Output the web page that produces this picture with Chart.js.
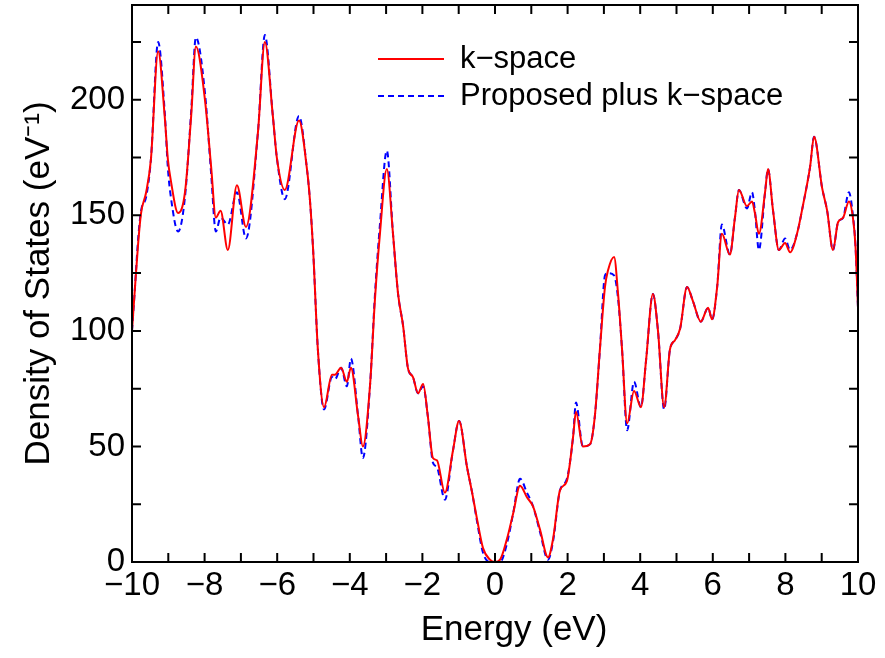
<!DOCTYPE html>
<html>
<head>
<meta charset="utf-8">
<script src="https://cdn.jsdelivr.net/npm/chart.js@4.4.1/dist/chart.umd.min.js"></script>
<style>
  html, body { margin: 0; padding: 0; background: #fff; }
</style>
</head>
<body>
<canvas id="dosChart" width="885" height="658"></canvas>
<script>
// energy grid (eV)
const energy = [-10.00, -9.93, -9.83, -9.75, -9.61, -9.48, -9.28, -9.10, -9.01, -8.93, -8.73, -8.54, -8.37, -8.24,
  -7.99, -7.82, -7.69, -7.56, -7.36, -7.11, -6.86, -6.53, -6.34, -6.12, -6.01, -5.79, -5.40, -5.18, -5.10, -5.01,
  -4.88, -4.71, -4.49, -4.41, -4.24, -4.08, -3.97, -3.77, -3.64, -3.44, -3.31, -3.17, -2.98, -2.81, -2.67, -2.53,
  -2.40, -2.26, -2.12, -1.98, -1.85, -1.71, -1.60, -1.38, -1.16, -0.99, -0.77, -0.63, -0.50, -0.33, -0.14, 0.00,
  0.14, 0.33, 0.50, 0.69, 0.88, 1.05, 1.24, 1.46, 1.60, 1.79, 1.98, 2.15, 2.23, 2.42, 2.62, 2.75, 2.89, 3.03,
  3.11, 3.28, 3.39, 3.50, 3.64, 3.83, 4.02, 4.16, 4.35, 4.49, 4.66, 4.82, 4.96, 5.10, 5.29, 5.45, 5.67, 5.87,
  5.98, 6.12, 6.25, 6.47, 6.61, 6.72, 6.94, 7.08, 7.16, 7.27, 7.44, 7.52, 7.66, 7.82, 7.99, 8.13, 8.32, 8.48,
  8.68, 8.79, 9.01, 9.15, 9.31, 9.45, 9.59, 9.75, 9.86, 9.93, 10.00];

// k-space DOS
const kspace = [100, 116, 138, 151, 160, 174, 221, 193, 174, 165, 151, 160, 193, 223,
  200, 171, 149, 152, 135, 163, 145, 186, 225, 193, 175, 161, 191, 170, 157, 135,
  92, 67, 81, 81, 84, 78, 84, 63, 50, 77, 113, 142, 170, 142, 116, 102,
  84, 80, 73, 77, 63, 45, 44, 30, 48, 61, 41, 30, 19, 6, 1, 0,
  1, 10, 21, 33, 28, 24, 14, 2, 10, 31, 35, 54, 65, 50, 51, 63, 92, 119,
  126, 132, 116, 92, 60, 74, 67, 87, 116, 100, 67, 92, 96, 101, 119, 113, 104, 110,
  105, 119, 142, 133, 149, 161, 154, 156, 151, 142, 160, 170, 152, 135, 138, 134, 142, 154,
  171, 184, 162, 152, 135, 147, 149, 156, 149, 137, 110];

// proposed plus k-space DOS
const proposed = [100, 116, 140, 152, 158, 174, 225, 195, 170, 158, 143, 158, 195, 227,
  203, 168, 143, 149, 146, 160, 140, 186, 228, 193, 175, 157, 193, 170, 157, 135,
  92, 66, 80, 79, 84, 76, 88, 63, 45, 77, 115, 146, 178, 142, 116, 102,
  84, 80, 73, 76, 63, 43, 41, 27, 48, 61, 41, 30, 18, 4, 0, 0,
  0, 8, 21, 36, 30, 24, 13, 1, 9, 31, 36, 54, 69, 50, 51, 63, 92, 124,
  125, 124, 114, 92, 57, 78, 67, 87, 116, 100, 66, 92, 96, 101, 119, 113, 104, 110,
  105, 119, 146, 133, 149, 161, 153, 160, 152, 135, 160, 170, 152, 135, 140, 135, 142, 154,
  171, 184, 162, 152, 135, 147, 149, 160, 150, 137, 110];

const seriesNames = ['k\u2212space', 'Proposed plus k\u2212space'];
const xTitle = 'Energy (eV)';
const xMajor = 2;
const yMajor = 50;

const FONT = 'Liberation Sans, Arial, Helvetica, sans-serif';

function pts(ys) {
  return energy.map((e, i) => ({ x: e, y: ys[i] }));
}

// frame, inward ticks, x title and the legend inside the plot
const framePlugin = {
  id: 'frame',
  afterDatasetsDraw(chart) {
    const { ctx, chartArea: { left, right, top, bottom }, scales: { x, y } } = chart;
    ctx.save();
    ctx.strokeStyle = '#000';
    ctx.lineWidth = 2;
    ctx.beginPath();
    x.ticks.forEach(t => {
      if (t.value <= x.min || t.value >= x.max) return;
      const p = x.getPixelForValue(t.value);
      ctx.moveTo(p, bottom); ctx.lineTo(p, bottom - 9);
      ctx.moveTo(p, top); ctx.lineTo(p, top + 9);
    });
    y.ticks.forEach(t => {
      if (t.value <= y.min || t.value >= y.max || t.value % 25 !== 0) return;
      const p = y.getPixelForValue(t.value);
      ctx.moveTo(left, p); ctx.lineTo(left + 9, p);
      ctx.moveTo(right, p); ctx.lineTo(right - 9, p);
    });
    ctx.stroke();
    ctx.strokeRect(left, top, right - left, bottom - top);

    // x axis title, sitting a little right of centre as in the source
    ctx.fillStyle = '#000';
    ctx.font = '35px ' + FONT;
    ctx.textAlign = 'center';
    ctx.textBaseline = 'middle';
    ctx.fillText(xTitle, (left + right) / 2 + 19, 630);

    // legend
    ctx.textAlign = 'left';
    ctx.font = '31px ' + FONT;
    chart.data.datasets.forEach((ds, i) => {
      const ly = 59 + i * 37;
      ctx.strokeStyle = ds.borderColor;
      ctx.lineWidth = ds.borderWidth;
      ctx.setLineDash(ds.borderDash || []);
      ctx.beginPath();
      ctx.moveTo(378, ly); ctx.lineTo(444, ly);
      ctx.stroke();
      ctx.setLineDash([]);
      ctx.fillText(ds.label, 460, ly);
    });
    ctx.restore();
  }
};

const ctx = document.getElementById('dosChart').getContext('2d');
const dosChart = new Chart(ctx, {
  type: 'line',
  data: {
    datasets: [{
      label: seriesNames[0],
      data: pts(kspace),
      borderColor: '#ff0000',
      borderWidth: 2,
      cubicInterpolationMode: 'monotone',
      pointRadius: 0,
      fill: false
    }, {
      label: seriesNames[1],
      data: pts(proposed),
      borderColor: '#0000ff',
      borderWidth: 2,
      borderDash: [6, 4],
      cubicInterpolationMode: 'monotone',
      pointRadius: 0,
      fill: false
    }]
  },
  options: {
    responsive: false,
    animation: false,
    devicePixelRatio: 1,
    layout: { padding: { left: 0, right: 27, top: 5, bottom: 0 } },
    plugins: {
      legend: { display: false },
      tooltip: { enabled: false }
    },
    scales: {
      x: {
        type: 'linear',
        min: -10,
        max: 10,
        grid: { display: false, drawTicks: false },
        border: { display: false },
        ticks: {
          stepSize: 1,
          autoSkip: false,
          maxRotation: 0,
          padding: 4,
          color: '#000',
          font: { family: FONT, size: 33 },
          callback: v => (v % xMajor === 0 ? String(v).replace('-', '\u2212') : '')
        },
        afterFit(s) { s.height = 96; s.paddingLeft = 0; s.paddingRight = 0; }
      },
      y: {
        min: 0,
        max: 241,
        grid: { display: false, drawTicks: false },
        border: { display: false },
        ticks: {
          stepSize: 25,
          includeBounds: false,
          autoSkip: false,
          padding: 7,
          color: '#000',
          font: { family: FONT, size: 33 },
          callback: v => (v % yMajor === 0 ? String(v) : '')
        },
        title: {
          display: true,
          text: 'Density of States (eV\u207B\u00B9)',
          color: '#000',
          font: { family: FONT, size: 35 },
          padding: { top: 18, bottom: 0 }
        },
        afterFit(s) { s.width = 132; s.paddingTop = 0; s.paddingBottom = 0; }
      }
    }
  },
  plugins: [framePlugin]
});
</script>
</body>
</html>
